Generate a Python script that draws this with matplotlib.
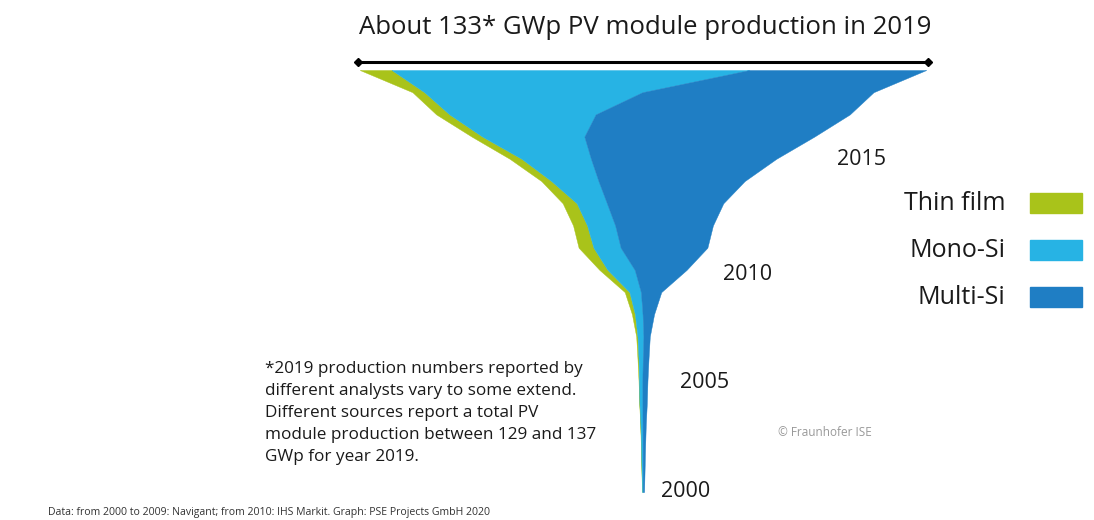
import matplotlib
matplotlib.use("Agg")
import matplotlib.pyplot as plt
import numpy as np
from matplotlib.patches import Rectangle

plt.rcParams['font.family'] = ['Open Sans', 'DejaVu Sans']

# ---- data (GWp per year) ----
years = list(range(2000, 2020))
thin_film = [0.02, 0.03, 0.04, 0.05, 0.06, 0.10, 0.25, 0.30, 0.70, 1.10,
             1.90, 3.50, 3.30, 3.30, 2.35, 2.80, 2.50, 3.10, 2.80, 7.50]
mono_si = [0.18, 0.28, 0.38, 0.50, 0.70, 0.80, 1.00, 1.40, 1.80, 2.70,
           6.40, 6.40, 6.60, 7.10, 11.10, 16.30, 24.00, 34.40, 51.30, 84.20]
multi_si = [0.30, 0.44, 0.58, 0.75, 1.04, 1.20, 1.35, 1.50, 2.70, 4.80,
            12.20, 20.40, 23.00, 27.40, 34.40, 43.60, 54.10, 59.80, 54.40, 41.60]
series_names = ["Thin film", "Mono-Si", "Multi-Si"]
series_colors = ["#a9c31a", "#27b3e4", "#1f7ec4"]
year_labels = [2000, 2005, 2010, 2015]

title = "About 133* GWp PV module production in 2019"
note = ("*2019 production numbers reported by\n"
        "different analysts vary to some extend.\n"
        "Different sources report a total PV\n"
        "module production between 129 and 137\n"
        "GWp for year 2019.")
source = "Data: from 2000 to 2009: Navigant; from 2010: IHS Markit. Graph: PSE Projects GmbH 2020"
copyright_txt = "© Fraunhofer ISE"

W, H = 1094, 520
fig = plt.figure(figsize=(W / 100, H / 100), dpi=100)
ax = fig.add_axes([0, 0, 1, 1])
ax.set_axis_off()

px_per_gw = 4.25
cx = 643.0
y2019, y2000 = 70.0, 492.0
yr_per_px = 19.0 / (y2000 - y2019)
ax.set_xlim(-cx / px_per_gw, (W - cx) / px_per_gw)
ax.set_ylim(2000 - (H - y2000) * yr_per_px, 2019 + y2019 * yr_per_px)

yr = np.array(years, dtype=float)
t = np.array(thin_film)
m = np.array(mono_si)
mu = np.array(multi_si)
total = t + m + mu
left = -total / 2
b1 = left + t
b2 = b1 + m
right = b2 + mu
for lo, hi, c in [(left, b1, series_colors[0]), (b1, b2, series_colors[1]), (b2, right, series_colors[2])]:
    ax.fill_betweenx(yr, lo, hi, color=c, linewidth=0.3, edgecolor=c)

def fx(px):
    return px / W
def fy(py):
    return 1 - py / H

# double-ended line at top
fig.add_artist(plt.Line2D([fx(358), fx(928)], [fy(62), fy(62)], color='black', lw=2.2,
                          marker='D', markersize=4, markevery=[0, 1]))
fig.text(fx(645), fy(27), title, ha='center', va='center', fontsize=18.5, color='#1a1a1a')

# year labels
label_pos = {2000: 686, 2005: 705, 2010: 748, 2015: 862}
label_dy = {2000: 0, 2005: 2, 2010: 5, 2015: 1}
for y in year_labels:
    ax.text((label_pos[y] - cx) / px_per_gw, y - label_dy[y] * yr_per_px, str(y),
            ha='center', va='center', fontsize=15.5, color='#1a1a1a')

# legend
leg_y = [203, 250, 297]
for name, c, py in zip(series_names, series_colors, leg_y):
    fig.text(fx(1005), fy(py), name, ha='right', va='center', fontsize=18, color='#1a1a1a')
    fig.add_artist(Rectangle((fx(1030), fy(py + 10)), 52 / W, 20 / H, color=c,
                             transform=fig.transFigure))

fig.text(fx(265), fy(361), note, ha='left', va='top', fontsize=12.3, color='#1a1a1a',
         linespacing=1.5)
fig.text(fx(48), fy(512), source, ha='left', va='center', fontsize=7.6, color='#333333')
fig.text(fx(778), fy(432), copyright_txt, ha='left', va='center', fontsize=8.5, color='#999999')

fig.savefig("out.png", dpi=100)
